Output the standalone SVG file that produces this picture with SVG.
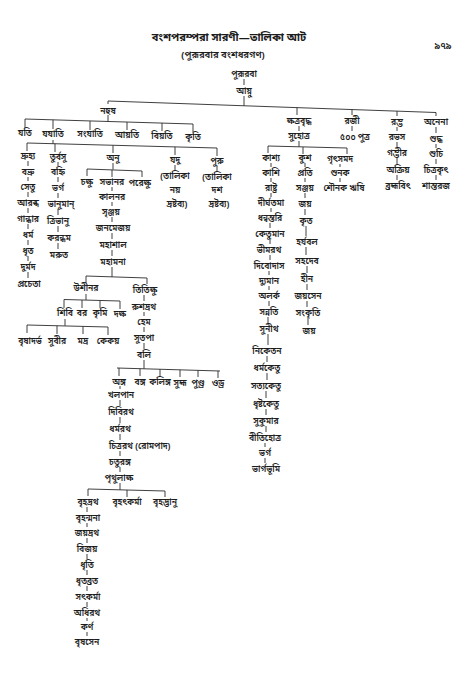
<svg xmlns="http://www.w3.org/2000/svg" width="473" height="681" viewBox="0 0 473 681">
<style>
text{font-family:"Noto Sans Bengali","Noto Serif Bengali","Noto Sans","Liberation Sans",sans-serif;font-size:8.6px;font-weight:600;text-anchor:middle;fill:#1c1c1c}
.h{font-size:11px;font-weight:700}
.s{font-size:9.5px}
.st{text-anchor:start}
#connectors path{stroke:#2a2a2a;stroke-width:0.9;fill:none}
</style>
<rect width="473" height="681" fill="#ffffff"/>
<g id="header">
<text class="h" x="229" y="41">বংশপরম্পরা সারণী—তালিকা আট</text>
<text class="s" x="223" y="58">(পুরূরবার বংশধরগণ)</text>
<text class="s" x="443" y="49">৯৭৯</text>
</g>
<g id="connectors">
<path d="M244,79V85M244,96V105.8M108,101L436,112.5M108,101V104M297,107.6V115M352,109.5V115M397,111.1V116M436,112.5V116"/>
<path d="M108,115V121.5M25,119L193,124M25,119V128M53,119.8V129M90,121V130M127,122V130M162,123V131M193,124V132"/>
<path d="M53,140V143.7M27,143L217,148M27,143V151M55,143.7V152M113,145.3V153M175,146.9V155M217,148V156M175,165V170M217,166V171"/>
<path d="M28,161V166M28,177V181M28,192V197M28,208V213M28,224V229M28,240V245M28,256V261M28,272V278"/>
<path d="M58,162V166M58,177V182M58,193V198M58,209V215M58,226V232M58,243V249"/>
<path d="M113,163V169.6M87,169L142,171M87,169V176M112,170V177M142,171V177"/>
<path d="M112,187V191M112,202V206M112,217V222M112,233V239M112,250V256M112,267V277M86,276L147,278M86,276V283M147,278V284"/>
<path d="M86,294V300M64,299.5L120,301M64,299.5V308M82,300V308M100,300.5V308M120,301V309"/>
<path d="M65,319V325.8M27,325L108,327M27,325V333M57,325.7V334M83,326.4V334M108,327V335"/>
<path d="M144,295V301M144,312V316M144,327V332M144,343V349M144,360V368.8M117,368L220,371M119,368V376M140,368.6V376M160,369.2V377M180,369.8V377M198,370.3V377M218,370.9V378"/>
<path d="M120,386V389M120,400V406M120,417V423M120,434V440M120,451V456M120,467V472M120,483V489.8M88,489L165,491M88,489V496M127,490V497M165,491V497"/>
<path d="M87,507V512M87,523V527M87,538V543M87,554V559M87,570V575M87,586V591M87,602V607M87,618V621M87,632V636"/>
<path d="M299,126V131M299,141V146.8M268,146L347,148M268,146V153M303,147V154M347,148V154"/>
<path d="M271,163V167M271,178V182M271,193V197M271,208V212M270,223V228M270,239V244M270,255V260M269,271V275M269,286V290M269,301V306M268,317V323M268,334V345M267,356V362M267,373V380M266,391V398M266,409V415M266,426V432M265,443V447M265,458V463"/>
<path d="M305,163V167M305,178V182M305,193V198M305,209V215M306,226V236M306,247V255M307,266V273M307,284V290M307,301V307M308,318V325"/>
<path d="M340,164V167M340,178V182M352,126V131M397,127V131M397,142V147M397,158V164M397,175V180M436,127V133M436,144V148M436,159V164M436,175V180"/>
</g>
<g id="n-pururava"><text x="244" y="77">পুরূরবা</text></g>
<g id="n-ayu"><text x="244" y="94">আয়ু</text></g>
<g id="n-nahusha"><text x="108" y="114">নহুষ</text></g>
<g id="n-kshatravriddha"><text x="299" y="124">ক্ষত্রবৃদ্ধ</text></g>
<g id="n-raji"><text x="352" y="124">রজী</text></g>
<g id="n-rambha"><text x="397" y="125">রম্ভ</text></g>
<g id="n-anena"><text x="436" y="125">অনেনা</text></g>
<g id="n-yati"><text x="25" y="136">যতি</text></g>
<g id="n-yayati"><text x="53" y="137">যযাতি</text></g>
<g id="n-samyati"><text x="90" y="137">সংযাতি</text></g>
<g id="n-ayati"><text x="127" y="138">আয়তি</text></g>
<g id="n-viyati"><text x="162" y="139">বিয়তি</text></g>
<g id="n-kriti"><text x="193" y="140">কৃতি</text></g>
<g id="n-druhyu"><text x="28" y="159">দ্রুহ্য</text></g>
<g id="n-turvasu"><text x="58" y="160">তুর্বসু</text></g>
<g id="n-anu"><text x="113" y="161">অনু</text></g>
<g id="n-yadu"><text x="175" y="163">যদু</text><text x="175" y="179">(তালিকা</text><text x="175" y="193">নয়</text><text x="177" y="207">দ্রষ্টব্য)</text></g>
<g id="n-puru"><text x="217" y="164">পুরু</text><text x="217" y="180">(তালিকা</text><text x="217" y="193">দশ</text><text x="219" y="207">দ্রষ্টব্য)</text></g>
<g id="n-babhru"><text x="28" y="175">বভ্রু</text></g>
<g id="n-setu"><text x="28" y="190">সেতু</text></g>
<g id="n-arabdha"><text x="28" y="206">আরব্ধ</text></g>
<g id="n-gandhara"><text x="28" y="222">গান্ধার</text></g>
<g id="n-dharma"><text x="28" y="238">ধর্ম</text></g>
<g id="n-dhrita"><text x="28" y="254">ধৃত</text></g>
<g id="n-durmada"><text x="28" y="270">দুর্মদ</text></g>
<g id="n-pracheta"><text x="29" y="287">প্রচেতা</text></g>
<g id="n-vahni"><text x="58" y="175">বহ্নি</text></g>
<g id="n-bharga1"><text x="58" y="191">ভর্গ</text></g>
<g id="n-bhanuman"><text x="61" y="207">ভানুমান্</text></g>
<g id="n-tribhanu"><text x="58" y="224">ত্রিভানু</text></g>
<g id="n-karandhama"><text x="59" y="241">করন্ধম</text></g>
<g id="n-marut"><text x="59" y="258">মরুত</text></g>
<g id="n-chakshu"><text x="87" y="185">চক্ষু</text></g>
<g id="n-sabhanara"><text x="112" y="185">সভানর</text></g>
<g id="n-parekshu"><text x="140" y="186">পরেক্ষু</text></g>
<g id="n-kalanara"><text x="112" y="200">কালনর</text></g>
<g id="n-srinjaya"><text x="111" y="215">সৃঞ্জয়</text></g>
<g id="n-janamejaya"><text x="113" y="231">জনমেজয়</text></g>
<g id="n-mahashala"><text x="113" y="248">মহাশাল</text></g>
<g id="n-mahamana"><text x="113" y="265">মহামনা</text></g>
<g id="n-ushinara"><text x="86" y="291">উশীনর</text></g>
<g id="n-titikshu"><text x="145" y="293">তিতিক্ষু</text></g>
<g id="n-shibi"><text x="65" y="316">শিবি</text></g>
<g id="n-vara"><text x="82" y="316">বর</text></g>
<g id="n-krimi"><text x="100" y="316">কৃমি</text></g>
<g id="n-daksha"><text x="120" y="317">দক্ষ</text></g>
<g id="n-vrishadarbha"><text x="30" y="344">বৃষাদর্ভ</text></g>
<g id="n-suvira"><text x="57" y="344">সুবীর</text></g>
<g id="n-madra"><text x="83" y="344">মদ্র</text></g>
<g id="n-kekaya"><text x="108" y="344">কেকয়</text></g>
<g id="n-rushadratha"><text x="144" y="310">রুশদ্রথ</text></g>
<g id="n-hema"><text x="144" y="325">হেম</text></g>
<g id="n-sutapa"><text x="144" y="341">সুতপা</text></g>
<g id="n-bali"><text x="144" y="358">বলি</text></g>
<g id="n-anga"><text x="119" y="385">অঙ্গ</text></g>
<g id="n-vanga"><text x="140" y="385">বঙ্গ</text></g>
<g id="n-kalinga"><text x="160" y="385">কলিঙ্গ</text></g>
<g id="n-suhma"><text x="180" y="386">সুহ্ম</text></g>
<g id="n-pundra"><text x="198" y="386">পুণ্ড্র</text></g>
<g id="n-odra"><text x="218" y="386">ওড্র</text></g>
<g id="n-khalapana"><text x="121" y="398">খলপান</text></g>
<g id="n-diviratha"><text x="121" y="415">দিবিরথ</text></g>
<g id="n-dharmaratha"><text x="120" y="432">ধর্মরথ</text></g>
<g id="n-chitraratha"><text class="st" x="109" y="449">চিত্ররথ (রোমপাদ)</text></g>
<g id="n-chaturanga"><text x="120" y="465">চতুরঙ্গ</text></g>
<g id="n-prithulaksha"><text x="119" y="481">পৃথুলাক্ষ</text></g>
<g id="n-brihadratha"><text x="88" y="505">বৃহদ্রথ</text></g>
<g id="n-brihatkarma"><text x="127" y="505">বৃহৎকর্মা</text></g>
<g id="n-brihadbhanu"><text x="165" y="505">বৃহদ্ভানু</text></g>
<g id="n-brihanmana"><text x="88" y="521">বৃহন্মনা</text></g>
<g id="n-jayadratha"><text x="87" y="536">জয়দ্রথ</text></g>
<g id="n-vijaya"><text x="87" y="552">বিজয়</text></g>
<g id="n-dhriti"><text x="87" y="568">ধৃতি</text></g>
<g id="n-dhritavrata"><text x="87" y="584">ধৃতব্রত</text></g>
<g id="n-satkarma"><text x="88" y="600">সৎকর্মা</text></g>
<g id="n-adhiratha"><text x="87" y="616">অধিরথ</text></g>
<g id="n-karna"><text x="87" y="630">কর্ণ</text></g>
<g id="n-vrishasena"><text x="87" y="645">বৃষসেন</text></g>
<g id="n-suhotra"><text x="299" y="139">সুহোত্র</text></g>
<g id="n-kashya"><text x="271" y="161">কাশ্য</text></g>
<g id="n-kusha"><text x="305" y="161">কুশ</text></g>
<g id="n-gritsamada"><text x="340" y="162">গৃৎসমদ</text></g>
<g id="n-kashi"><text x="271" y="176">কাশি</text></g>
<g id="n-rashtra"><text x="271" y="191">রাষ্ট্র</text></g>
<g id="n-dirghatama"><text x="271" y="206">দীর্ঘতমা</text></g>
<g id="n-dhanvantari"><text x="270" y="221">ধন্বন্তরি</text></g>
<g id="n-ketuman"><text x="270" y="237">কেতুমান</text></g>
<g id="n-bhimaratha"><text x="269" y="253">ভীমরথ</text></g>
<g id="n-divodasa"><text x="269" y="269">দিবোদাস</text></g>
<g id="n-dyuman"><text x="269" y="284">দ্যুমান</text></g>
<g id="n-alarka"><text x="269" y="299">অলর্ক</text></g>
<g id="n-sannati"><text x="269" y="315">সন্নতি</text></g>
<g id="n-sunitha"><text x="269" y="332">সুনীথ</text></g>
<g id="n-niketana"><text x="267" y="354">নিকেতন</text></g>
<g id="n-dharmaketu"><text x="267" y="371">ধর্মকেতু</text></g>
<g id="n-satyaketu"><text x="266" y="389">সত্যকেতু</text></g>
<g id="n-dhrishtaketu"><text x="266" y="407">ধৃষ্টকেতু</text></g>
<g id="n-sukumara"><text x="266" y="424">সুকুমার</text></g>
<g id="n-vitihotra"><text x="265" y="441">বীতিহোত্র</text></g>
<g id="n-bharga2"><text x="265" y="456">ভর্গ</text></g>
<g id="n-bhargabhumi"><text x="266" y="472">ভার্গভূমি</text></g>
<g id="n-prati"><text x="305" y="176">প্রতি</text></g>
<g id="n-sanjaya"><text x="305" y="191">সঞ্জয়</text></g>
<g id="n-jaya1"><text x="305" y="207">জয়</text></g>
<g id="n-krita"><text x="306" y="224">কৃত</text></g>
<g id="n-haryabala"><text x="307" y="245">হর্যবল</text></g>
<g id="n-sahadeva"><text x="307" y="264">সহদেব</text></g>
<g id="n-hina"><text x="307" y="282">হীন</text></g>
<g id="n-jayasena"><text x="308" y="299">জয়সেন</text></g>
<g id="n-sankriti"><text x="308" y="316">সংকৃতি</text></g>
<g id="n-jaya2"><text x="309" y="334">জয়</text></g>
<g id="n-shunaka"><text x="340" y="176">শুনক</text></g>
<g id="n-shaunaka"><text x="344" y="191">শৌনক ঋষি</text></g>
<g id="n-500sons"><text x="355" y="140">৫০০ পুত্র</text></g>
<g id="n-rabhasa"><text x="397" y="140">রভস</text></g>
<g id="n-gambhira"><text x="397" y="156">গম্ভীর</text></g>
<g id="n-akriya"><text x="398" y="173">অক্রিয়</text></g>
<g id="n-brahmavit"><text x="398" y="189">ব্রহ্মবিৎ</text></g>
<g id="n-shuddha"><text x="436" y="142">শুদ্ধ</text></g>
<g id="n-shuchi"><text x="436" y="157">শুচি</text></g>
<g id="n-chitrakrit"><text x="436" y="173">চিত্রকৃৎ</text></g>
<g id="n-shantaraja"><text x="436" y="189">শান্তরজ</text></g>
</svg>
